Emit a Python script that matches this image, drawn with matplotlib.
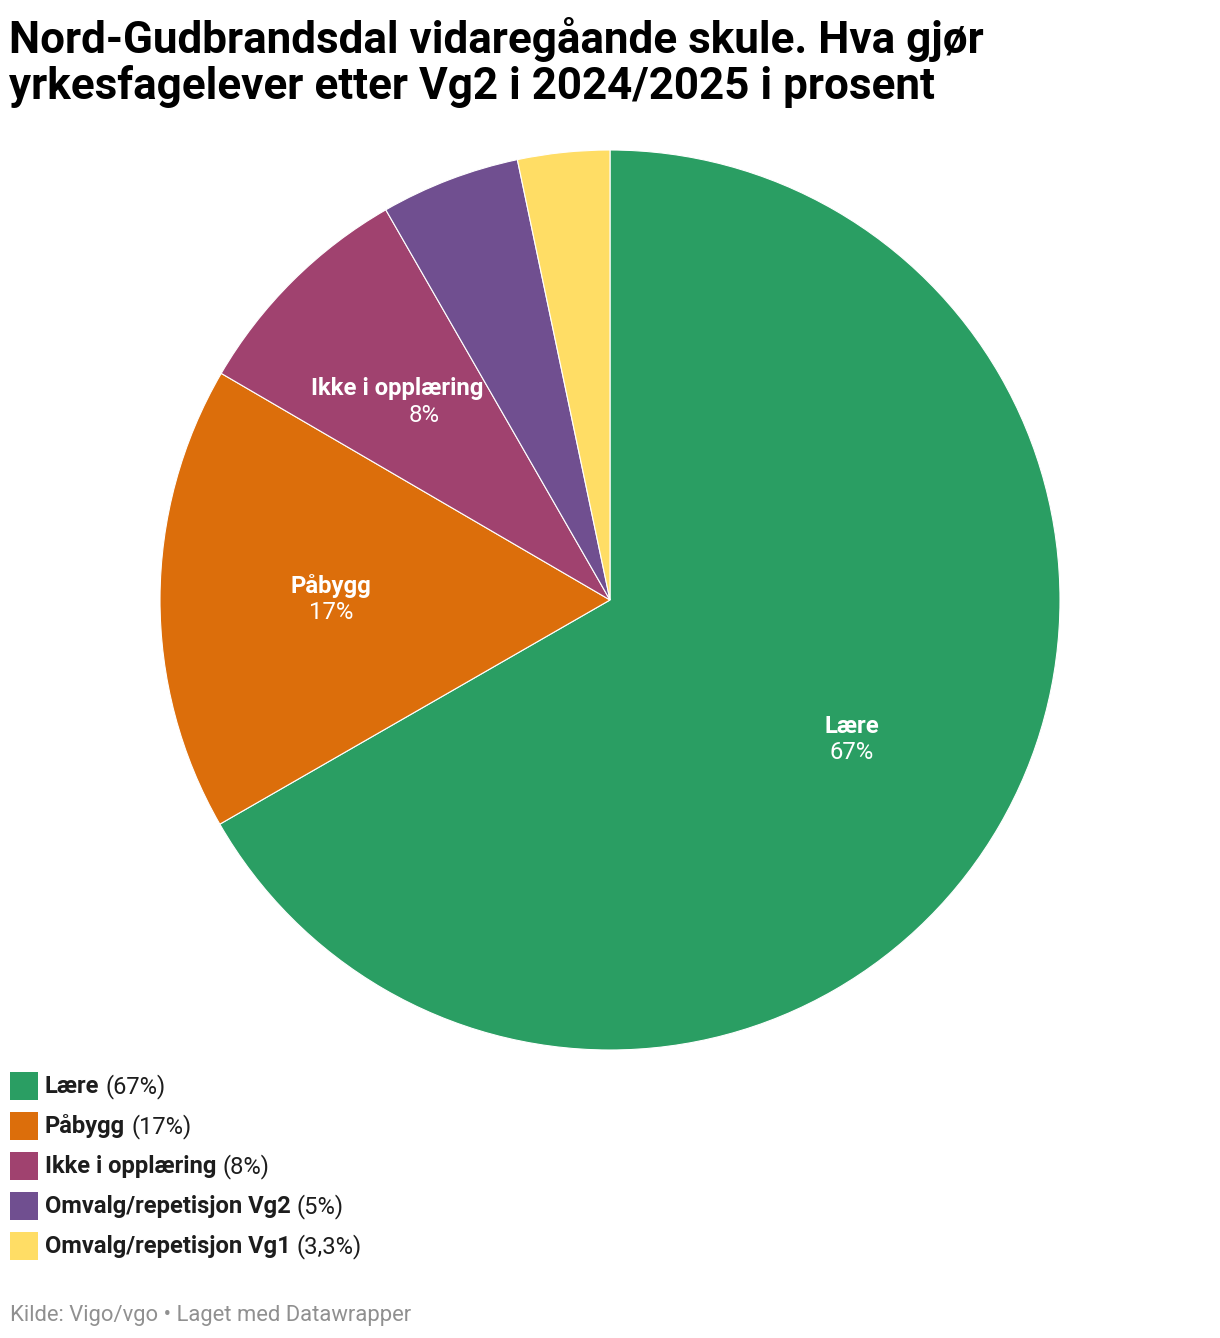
import matplotlib
matplotlib.use("Agg")
import matplotlib.pyplot as plt
from matplotlib.patches import Rectangle
import numpy as np

plt.rcParams['font.family'] = ['Roboto', 'DejaVu Sans']

labels = ["Lære", "Påbygg", "Ikke i opplæring", "Omvalg/repetisjon Vg2", "Omvalg/repetisjon Vg1"]
values = [66.7, 16.7, 8.3, 5.0, 3.3]
value_text = ["67%", "17%", "8%", "5%", "3,3%"]
show_inside = [True, True, True, False, False]
colors = ["#2a9e63", "#dc6e0b", "#a0426f", "#704f90", "#ffdd65"]
title_lines = ["Nord-Gudbrandsdal vidaregåande skule. Hva gjør",
               "yrkesfagelever etter Vg2 i 2024/2025 i prosent"]
source = "Kilde: Vigo/vgo • Laget med Datawrapper"

W, H = 1220, 1338
fig = plt.figure(figsize=(W / 100, H / 100), dpi=100)

def fx(px):
    return px / W

def fy(py):
    return 1 - py / H

for i, line in enumerate(title_lines):
    fig.text(fx(9), fy(53 + i * 46), line, fontsize=31.7, fontweight="bold", color="#000000",
             va="baseline", ha="left")

# pie, centre (610, 600), radius 450
cx, cy, r = 610, 600, 450
ax = fig.add_axes([fx(cx - r), fy(cy + r), (2 * r) / W, (2 * r) / H])
wedges, _ = ax.pie(values, colors=colors, startangle=90, counterclock=False,
                   radius=1, wedgeprops=dict(edgecolor="white", linewidth=0.8))
ax.set_xlim(-1, 1)
ax.set_ylim(-1, 1)
ax.set_aspect("equal")
ax.axis("off")

# small nudges so the label stays inside the narrow wedge
name_dx = [0, 0, -0.035, 0, 0]
val_dx = [0, 0, 0.025, 0, 0]
for w, lab, vt, show, ndx, vdx in zip(wedges, labels, value_text, show_inside, name_dx, val_dx):
    if not show:
        continue
    mid = np.deg2rad((w.theta1 + w.theta2) / 2)
    d = 0.62
    x, y = d * np.cos(mid), d * np.sin(mid)
    ax.text(x + ndx, y + 0.03, lab, ha="center", va="center", color="white", fontsize=17.2, fontweight="bold")
    ax.text(x + vdx, y - 0.029, vt, ha="center", va="center", color="white", fontsize=17.2)

# legend
renderer = fig.canvas.get_renderer()
for i, (lab, vt, c) in enumerate(zip(labels, value_text, colors)):
    top = 1072 + i * 40
    fig.patches.append(Rectangle((fx(10), fy(top + 28)), 28 / W, 28 / H, transform=fig.transFigure,
                                 facecolor=c, edgecolor="none"))
    t = fig.text(fx(45), fy(top + 21), lab, fontsize=17.1, fontweight="bold", color="#1d1d1d",
                 va="baseline", ha="left")
    bb = t.get_window_extent(renderer)
    fig.text((bb.x1 + 6) / W, fy(top + 21), "(" + vt + ")", fontsize=17.1, color="#1d1d1d",
             va="baseline", ha="left")

fig.text(fx(10), fy(1321), source, fontsize=15.8, color="#909090", va="baseline", ha="left")

fig.savefig("out.png", dpi=100)
